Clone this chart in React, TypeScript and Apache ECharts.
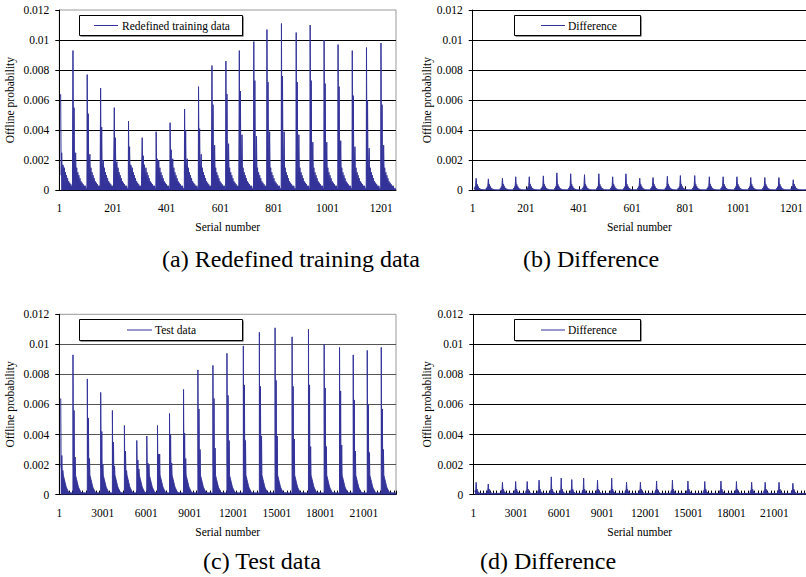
import React, { useEffect, useRef } from "react";
import * as echarts from "echarts";

// ---------- data ----------
// (a) Redefined training data / (b) Difference : serial numbers where each of the 24 cycles starts
const trainCycleStarts = [6, 52, 105, 155, 206, 259, 310, 362, 414, 468, 520, 570, 622, 672, 726, 775, 829, 884, 936, 988, 1040, 1093, 1146, 1200];
const trainLastSerial = 1256;
const trainPeaks = [0.0064, 0.0093, 0.0077, 0.0068, 0.0055, 0.0046, 0.0035, 0.0039, 0.0045, 0.0054, 0.0069, 0.0083, 0.0086, 0.0093, 0.0099, 0.0107, 0.0111, 0.0105, 0.011, 0.01, 0.0097, 0.0093, 0.0095, 0.0098];
const trainSecondPeaks = [0.0025, 0.0055, 0.0051, 0.0042, 0.0035, 0.0029, 0.0023, 0.0021, 0.0027, 0.004, 0.0041, 0.0057, 0.0064, 0.0066, 0.0073, 0.0072, 0.0076, 0.0072, 0.0073, 0.0071, 0.0069, 0.0063, 0.006, 0.0057];
const trainThirdPeaks = [0.0016, 0.0025, 0.0024, 0.002, 0.0019, 0.0016, 0.0017, 0.002, 0.0021, 0.0021, 0.0024, 0.003, 0.0031, 0.0037, 0.0036, 0.0039, 0.0039, 0.0037, 0.0032, 0.0032, 0.0033, 0.0029, 0.0028, 0.003];
// values inside one cycle, one every 2 serial numbers ("P" peak, "S" second peak, "T" third peak)
const trainCycleShape: (number | string)[] = ["P", 0.001, "S", 0.0008, 0.0017, "T", 0.0007, 0.0015, 0.0004, 0.0012, 0.0003, 0.001, 0.0003, 0.0008, 0.0002, 0.0006, 0.0002, 0.0005, 0.0001, 0.0004, 0.0001, 0.0003, 0.0001, 0.0003, 0.0001];
const trainBase = 0.0001;

const trainDiffPeaks = [0.0008, 0.00076, 0.0008, 0.0009, 0.0009, 0.00096, 0.00116, 0.0011, 0.00104, 0.0011, 0.0009, 0.0011, 0.0008, 0.00085, 0.00093, 0.00098, 0.00098, 0.0009, 0.0009, 0.0009, 0.00085, 0.00085, 0.00085, 0.0007];
const trainDiffShape: (number | string)[] = [0.00015, 0.0001, 0.00025, 0.0003, "P", 0.0003, 0.0004, 0.0002, 0.00025, 0.0001, 0.00015, 0.00006, 0.0001, 0.00005, 0.00008, 0.00004, 0.00006, 0.00004, 0.00005, 0.00003, 0.00005, 0.00003, 0.00004, 0.00003, 0.00004];
const trainDiffBase = 0.00003;

// (c) Test data / (d) Difference
const testCycleStarts = [100, 944, 1934, 2855, 3661, 4490, 5342, 6033, 6770, 7599, 8566, 9556, 10592, 11559, 12688, 13793, 14875, 16050, 17178, 18260, 19320, 20263, 21230, 22197];
const testLastSerial = 23212;
const testPeaks = [0.0064, 0.0093, 0.0077, 0.0068, 0.0056, 0.0046, 0.0036, 0.0039, 0.0046, 0.0054, 0.007, 0.0083, 0.0086, 0.0094, 0.0099, 0.0108, 0.0111, 0.0105, 0.011, 0.01, 0.0098, 0.0093, 0.0096, 0.0098];
const testSecondPeaks = [0.0026, 0.0056, 0.0051, 0.0042, 0.0035, 0.0029, 0.0023, 0.0021, 0.0027, 0.004, 0.0041, 0.0057, 0.0064, 0.0066, 0.0073, 0.0072, 0.0076, 0.0072, 0.0073, 0.0071, 0.0069, 0.0063, 0.006, 0.0057];
const testThirdPeaks = [0.0016, 0.0025, 0.0024, 0.002, 0.0019, 0.0016, 0.0017, 0.002, 0.0027, 0.0021, 0.0024, 0.003, 0.0031, 0.0036, 0.0036, 0.0039, 0.0039, 0.0037, 0.0032, 0.0032, 0.0033, 0.0029, 0.0028, 0.003];
// values inside one cycle, one every 25 serial numbers
const testCycleShape: (number | string)[] = ["P", 0.0019, 0.0017, "S", 0.0016, 0.0015, "T", 0.0013, 0.0012, 0.0011, 0.001, 0.0009, 0.0008, 0.0007, 0.0006, 0.0005, 0.00045, 0.0004, 0.00035, 0.0003, 0.00025, 0.0002, 0.00018, 0.00015, 0.00013, 0.00012, 0.0001];
const testBase = 0.0001;

const testDiffPeaks = [0.00082, 0.0007, 0.00082, 0.00087, 0.00087, 0.00096, 0.00118, 0.0011, 0.001, 0.0011, 0.00096, 0.0011, 0.00082, 0.00082, 0.0009, 0.00096, 0.0009, 0.00087, 0.0009, 0.00087, 0.00082, 0.00082, 0.00082, 0.00075];
const testDiffShape: (number | string)[] = [0.0002, 0.00025, 0.0003, 0.00035, "P", 0.0004, 0.0003, 0.00035, 0.00025, 0.0002, 0.00018, 0.00015, 0.00012, 0.0001, 0.00009, 0.00008];
const testDiffBase = 0.00008;

const yTicks = [0, 0.002, 0.004, 0.006, 0.008, 0.01, 0.012];

// ---------- build series tables from the arrays above ----------
function buildCycles(
  starts: number[], lastSerial: number, step: number, shape: (number | string)[],
  peaks: number[], seconds: number[] | null, thirds: number[] | null, base: number
): [number, number][] {
  const data: [number, number][] = [];
  starts.forEach((start, c) => {
    const end = c + 1 < starts.length ? starts[c + 1] : lastSerial + 1;
    shape.forEach((v, j) => {
      const s = start + j * step;
      if (s >= end) return;
      const y = v === "P" ? peaks[c] : v === "S" ? seconds![c] : v === "T" ? thirds![c] : (v as number);
      data.push([s - 1, y]);
    });
    data.push([end - 2, base]);
  });
  return data;
}

const FONT = '"Liberation Serif", "Times New Roman", serif';
const BLUE = "#333399";

export default function App() {
  const ref = useRef<HTMLDivElement>(null);
  useEffect(() => {
    if (!ref.current) return;
    const chart = echarts.init(ref.current, undefined, { renderer: "svg" });

    const panels = [
      { left: 59.3, top: 10, max: trainLastSerial - 1, interval: 200, minor: 16, minorShow: false, border: true, grid: "#000", nameGap: 43,
        data: buildCycles(trainCycleStarts, trainLastSerial, 2, trainCycleShape, trainPeaks, trainSecondPeaks, trainThirdPeaks, trainBase) },
      { left: 472.7, top: 10, max: trainLastSerial - 1, interval: 200, minor: 16, minorShow: false, border: false, grid: "#000", nameGap: 40,
        data: buildCycles(trainCycleStarts, trainLastSerial, 2, trainDiffShape, trainDiffPeaks, null, null, trainDiffBase) },
      { left: 59.3, top: 314.3, max: testLastSerial - 1, interval: 3000, minor: 13, minorShow: true, border: true, grid: "#555", nameGap: 43,
        data: buildCycles(testCycleStarts, testLastSerial, 25, testCycleShape, testPeaks, testSecondPeaks, testThirdPeaks, testBase) },
      { left: 473.3, top: 314.3, max: testLastSerial - 1, interval: 3000, minor: 13, minorShow: true, border: false, grid: "#000", nameGap: 40,
        data: buildCycles(testCycleStarts, testLastSerial, 25, testDiffShape, testDiffPeaks, null, null, testDiffBase) },
    ];

    const axisText = { color: "#000", fontSize: 11.5, fontFamily: FONT };

    const legendBox = (x: number, y: number, w: number, h: number, lx1: number, lx2: number, tx: number, label: string) => [
      { type: "rect", z: 100, shape: { x: x + 1.5, y: y + 1.5, width: w, height: h }, style: { fill: "#333" } },
      { type: "rect", z: 101, shape: { x: x + 0.5, y: y + 0.5, width: w, height: h }, style: { fill: "#fff", stroke: "#000", lineWidth: 1 } },
      { type: "line", z: 102, shape: { x1: lx1, y1: y + h / 2 + 0.5, x2: lx2, y2: y + h / 2 + 0.5 }, style: { stroke: BLUE, lineWidth: 1 } },
      { type: "text", z: 102, x: tx, y: y + h / 2 + 0.5, style: { text: label, fill: "#000", font: '11.5px "Liberation Serif", "Times New Roman", serif', fontSize: 11.5, fontFamily: FONT, align: "left", verticalAlign: "middle" } },
    ];
    const caption = (x: number, y: number, label: string) => ({
      type: "text", z: 102, x, y, style: { text: label, fill: "#000", font: '24px "Liberation Serif", "Times New Roman", serif', fontSize: 24, fontFamily: FONT, align: "left", verticalAlign: "middle" },
    });

    chart.setOption({
      animation: false,
      backgroundColor: "#fff",
      textStyle: { fontFamily: FONT },
      grid: panels.map((p) => ({
        left: p.left, top: p.top, width: 336.7, height: 180.3, containLabel: false,
        show: p.border, borderColor: "#999", borderWidth: 1, backgroundColor: "transparent",
      })),
      xAxis: panels.map((p, i) => ({
        gridIndex: i, type: "value", min: 0, max: p.max, interval: p.interval,
        axisLine: { show: true, onZero: false, lineStyle: { color: "#000", width: 1 } },
        axisTick: { show: true, inside: true, length: 4, lineStyle: { color: "#000" } },
        minorTick: { show: p.minorShow, splitNumber: p.minor, length: 4, lineStyle: { color: "#000", width: 1 } },
        axisLabel: { ...axisText, margin: 12, showMaxLabel: false, formatter: (v: number) => (v % p.interval === 0 ? String(v + 1) : "") },
        splitLine: { show: false },
        name: "Serial number", nameLocation: "middle", nameGap: 31, nameTextStyle: axisText,
      })),
      yAxis: panels.map((p, i) => ({
        gridIndex: i, type: "value", min: yTicks[0], max: yTicks[yTicks.length - 1], interval: yTicks[1] - yTicks[0],
        axisLine: { show: true, lineStyle: { color: "#000", width: 1 } },
        axisTick: { show: true, length: 4, lineStyle: { color: "#000" } },
        axisLabel: { ...axisText, margin: 10, formatter: (v: number) => String(+v.toFixed(3)) },
        splitLine: { show: true, showMaxLine: !p.border, lineStyle: { color: p.grid, width: 1 } },
        name: "Offline probability", nameLocation: "middle", nameGap: p.nameGap, nameTextStyle: axisText,
      })),
      series: panels.map((p, i) => ({
        type: "line", xAxisIndex: i, yAxisIndex: i, data: p.data, showSymbol: false, symbol: "none",
        lineStyle: { color: BLUE, width: 1 }, itemStyle: { color: BLUE },
        areaStyle: { color: BLUE, opacity: 1 },
        silent: true, z: 3,
      })),
      graphic: [
        ...legendBox(79, 15, 163, 20, 94, 118, 122, "Redefined training data"),
        ...legendBox(514, 15, 126, 20, 541, 565, 568, "Difference"),
        ...legendBox(79, 319, 163, 21, 127, 152, 155, "Test data"),
        ...legendBox(514, 319, 126, 21, 541, 565, 568, "Difference"),
        caption(162, 259, "(a) Redefined training data"),
        caption(523, 259, "(b) Difference"),
        caption(203, 561, "(c) Test data"),
        caption(480, 561, "(d) Difference"),
      ],
    });
    return () => chart.dispose();
  }, []);
  return <div ref={ref} style={{ position: "fixed", left: 0, top: 0, width: 806, height: 577, background: "#fff" }} />;
}
